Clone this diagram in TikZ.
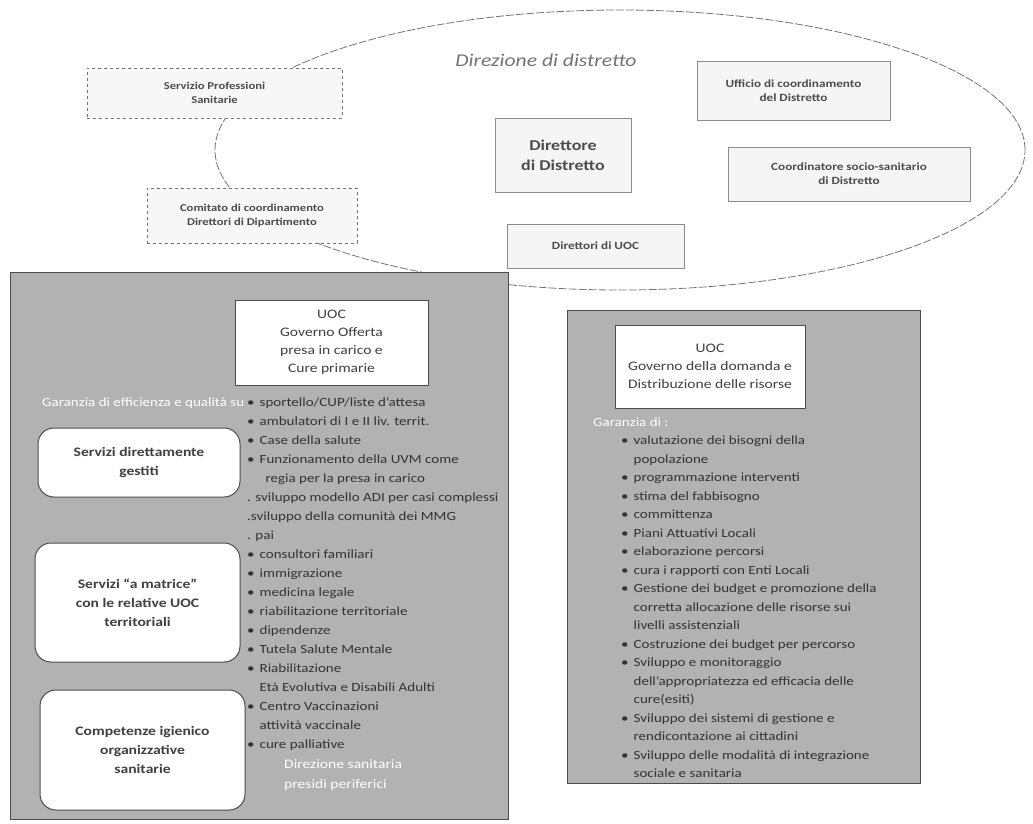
\documentclass[tikz,border=0pt]{standalone}
\usepackage{fontspec}
\setmainfont[FakeStretch=1.2]{Carlito}
\newcommand{\voce}{\textbullet\hspace{5pt}}
\newcommand{\segue}{\hphantom{\textbullet}\hspace{5pt}}
\begin{document}
\begin{tikzpicture}[x=1pt,y=-1pt,
  scatola/.style={draw=black!45, fill=black!4, line width=0.8pt, align=center, text=black!70, font=\fontsize{11}{14}\selectfont\bfseries},
  tratteggio/.style={scatola, dashed, draw=black!55, fill=black!3, font=\fontsize{10.5}{14}\selectfont\bfseries},
  pannello/.style={draw=black!70, fill=black!30, line width=1pt},
  uocbox/.style={draw=black!70, fill=white, line width=1pt, align=center, text=black!75, font=\fontsize{13}{18}\selectfont},
  arrotondato/.style={draw=black!70, fill=white, rounded corners=16pt, line width=1pt, align=center, text=black!75, font=\fontsize{13}{19}\selectfont\bfseries},
  elenco/.style={align=left, anchor=north west, inner sep=0pt, text=black!80, font=\fontsize{12.5}{19}\selectfont},
  bianco/.style={text=white, inner sep=0pt, align=left, font=\fontsize{12.5}{19.5}\selectfont}]
\useasboundingbox (0,0) rectangle (1033,823);

% direzione di distretto
\draw[black!55, dash pattern=on 8pt off 2pt, line width=0.8pt] (620,150) ellipse [x radius=405pt, y radius=140pt];
\node[text=black!55, font=\fontsize{18}{22}\selectfont\itshape] (titolo) at (546,60) {Direzione di distretto};
\node[tratteggio, minimum width=255pt, minimum height=50pt] (servizio) at (214.5,93) {Servizio Professioni\\Sanitarie};
\node[tratteggio, minimum width=210pt, minimum height=55pt] (comitato) at (252,215.5) {Comitato di coordinamento\\Direttori di Dipartimento};
\node[scatola, minimum width=136pt, minimum height=74pt, font=\fontsize{15}{20}\selectfont\bfseries] (direttore) at (563,155) {Direttore\\di Distretto};
\node[scatola, minimum width=193pt, minimum height=59pt] (ufficio) at (793.5,90.5) {Ufficio di coordinamento\\del Distretto};
\node[scatola, minimum width=242pt, minimum height=54pt] (coordinatore) at (849,174) {Coordinatore socio-sanitario\\di Distretto};
\node[scatola, minimum width=177pt, minimum height=44pt] (direttori) at (595.5,246) {Direttori di UOC};

% pannello sinistro
\draw[pannello] (10,272) rectangle (508,819);
\node[uocbox, minimum width=193pt, minimum height=85pt] (offerta) at (331.5,342.5) {UOC\\Governo Offerta\\presa in carico e\\Cure primarie};
\node[bianco, anchor=west] (garanzia1) at (42,403) {Garanzia di efficienza e qualità su};
\node[arrotondato, minimum width=202pt, minimum height=69pt] (diretti) at (139,462.5) {Servizi direttamente\\gestiti};
\node[arrotondato, minimum width=205pt, minimum height=119pt] (matrice) at (137.5,602.5) {Servizi “a matrice”\\con le relative UOC\\territoriali};
\node[arrotondato, minimum width=205pt, minimum height=120pt] (igiene) at (142.5,750) {Competenze igienico\\organizzative\\sanitarie};
\node[elenco] (lista1) at (247,397) {\voce sportello/CUP/liste d’attesa\\
\voce ambulatori di I e II liv. territ.\\
\voce Case della salute\\
\voce Funzionamento della UVM come\\
\segue\hspace{6pt}regia per la presa in carico\\
. sviluppo modello ADI per casi complessi\\
.sviluppo della comunità dei MMG\\
. pai\\
\voce consultori familiari\\
\voce immigrazione\\
\voce medicina legale\\
\voce riabilitazione territoriale\\
\voce dipendenze\\
\voce Tutela Salute Mentale\\
\voce Riabilitazione\\
\segue Età Evolutiva e Disabili Adulti\\
\voce Centro Vaccinazioni\\
\segue attività vaccinale\\
\voce cure palliative};
\node[bianco, anchor=north west, font=\fontsize{13}{20}\selectfont] (presidi) at (284,759) {Direzione sanitaria\\presidi periferici};

% pannello destro
\draw[pannello] (567,310) rectangle (920,783);
\node[uocbox, minimum width=190pt, minimum height=83pt] (domanda) at (710,366.5) {UOC\\Governo della domanda e\\Distribuzione delle risorse};
\node[bianco, anchor=west] (garanzia2) at (593,422) {Garanzia di :};
\node[elenco, font=\fontsize{12.5}{18.5}\selectfont] (lista2) at (621,436) {\voce valutazione dei bisogni della\\
\segue popolazione\\
\voce programmazione interventi\\
\voce stima del fabbisogno\\
\voce committenza\\
\voce Piani Attuativi Locali\\
\voce elaborazione percorsi\\
\voce cura i rapporti con Enti Locali\\
\voce Gestione dei budget e promozione della\\
\segue corretta allocazione delle risorse sui\\
\segue livelli assistenziali\\
\voce Costruzione dei budget per percorso\\
\voce Sviluppo e monitoraggio\\
\segue dell’appropriatezza ed efficacia delle\\
\segue cure(esiti)\\
\voce Sviluppo dei sistemi di gestione e\\
\segue rendicontazione ai cittadini\\
\voce Sviluppo delle modalità di integrazione\\
\segue sociale e sanitaria};
\end{tikzpicture}
\end{document}
